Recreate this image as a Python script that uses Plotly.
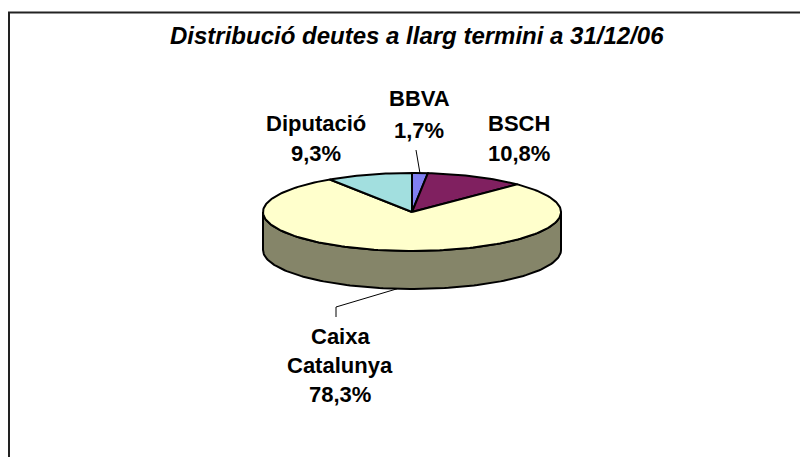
import numpy as np
import plotly.graph_objects as go

# ---- data ----
labels = ["BBVA", "BSCH", "Caixa Catalunya", "Diputació"]
values = [1.7, 10.8, 78.3, 9.3]
label_lines = [["BBVA"], ["BSCH"], ["Caixa", "Catalunya"], ["Diputació"]]
title_text = "Distribució deutes a llarg termini a 31/12/06"

# ---- style ----
top_colors = ["#8080F2", "#802060", "#FFFFCC", "#A2DFDF"]
side_colors = ["#43437E", "#421132", "#858569", "#547474"]
W, H = 808, 457
OFF = 8  # page body margin
cx, cy, rx, ry, depth = 412, 212, 149, 39, 38
FONT = "Liberation Sans, Arial, sans-serif"


def pt(theta_deg, dy=0.0):
    t = np.radians(theta_deg)
    return cx + rx * np.sin(t), cy - ry * np.cos(t) + dy


def arc(a0, a1, dy=0.0, n=None):
    if n is None:
        n = max(3, int(abs(a1 - a0) / 1.5) + 2)
    th = np.linspace(a0, a1, n)
    xs, ys = pt(th, dy)
    return list(xs), list(ys)


total = sum(values)
bounds = [0.0]
for v in values:
    bounds.append(bounds[-1] + v / total * 360.0)

fig = go.Figure()

# side walls (visible front half: 90..270 degrees)
for i in range(len(values)):
    a0, a1 = max(bounds[i], 90.0), min(bounds[i + 1], 270.0)
    if a1 <= a0:
        continue
    tx, ty = arc(a0, a1)
    bx, by = arc(a1, a0, depth)
    fig.add_trace(go.Scatter(
        x=tx + bx + [tx[0]], y=ty + by + [ty[0]], mode="lines",
        fill="toself", fillcolor=side_colors[i],
        line=dict(color="black", width=2), hoverinfo="skip", showlegend=False))

# top faces
for i in range(len(values)):
    ax, ay = arc(bounds[i], bounds[i + 1])
    fig.add_trace(go.Scatter(
        x=[cx] + ax + [cx], y=[cy] + ay + [cy], mode="lines",
        fill="toself", fillcolor=top_colors[i],
        line=dict(color="black", width=2), hoverinfo="skip", showlegend=False,
        name=labels[i]))

# leader lines
mids = [(bounds[i] + bounds[i + 1]) / 2 for i in range(len(values))]
sx, sy = pt(mids[0])
fig.add_trace(go.Scatter(x=[sx, 416], y=[sy, 150], mode="lines",
                         line=dict(color="black", width=1), hoverinfo="skip", showlegend=False))
sx, sy = pt(mids[2], depth)
fig.add_trace(go.Scatter(x=[sx, 336, 336], y=[sy, 307, 317], mode="lines",
                         line=dict(color="black", width=1), hoverinfo="skip", showlegend=False))

# labels
label_pos = [(419, [98, 130]), (519, [123, 153]), (340, [336, 365, 394]), (316, [123, 153])]
annotations = []
for i, (x, ys) in enumerate(label_pos):
    lines = label_lines[i] + [f"{values[i]:.1f}%".replace(".", ",")]
    for line, y in zip(lines, ys):
        annotations.append(dict(x=x, y=y, xref="x", yref="y", text=line, showarrow=False,
                                xanchor="center", yanchor="middle",
                                font=dict(family=FONT, size=22, color="black", weight="bold")))

annotations.append(dict(x=417, y=35, xref="x", yref="y", text=title_text, showarrow=False,
                        xanchor="center", yanchor="middle",
                        font=dict(family=FONT, size=24, color="black", weight="bold", style="italic")))

fig.update_layout(
    width=W - OFF, height=H - OFF, margin=dict(l=0, r=0, t=0, b=0),
    paper_bgcolor="white", plot_bgcolor="white",
    xaxis=dict(range=[OFF, W], visible=False, fixedrange=True),
    yaxis=dict(range=[H, OFF], visible=False, fixedrange=True),
    annotations=annotations,
    shapes=[dict(type="rect", xref="x", yref="y", x0=9, y0=12.5, x1=W + 20, y1=H + 20,
                 line=dict(color="#222222", width=2), fillcolor="rgba(0,0,0,0)", layer="below")],
)

fig.write_html("out.html")
